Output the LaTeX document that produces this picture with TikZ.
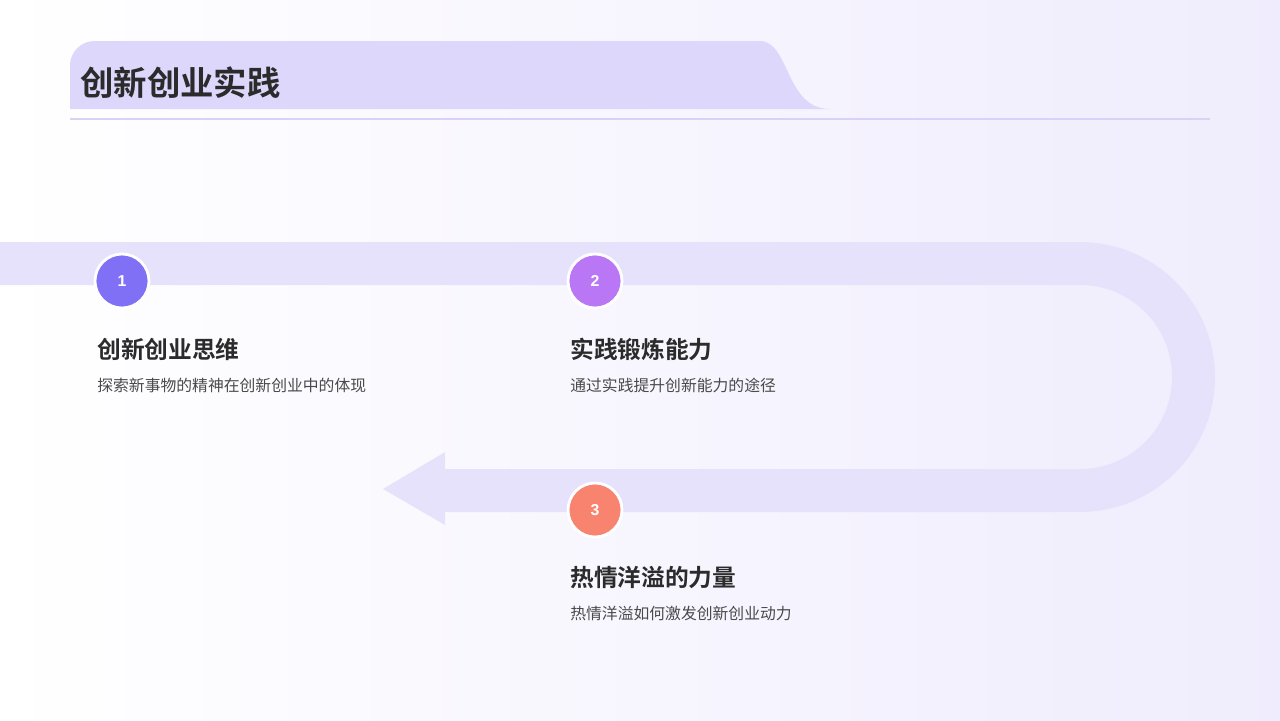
\documentclass[tikz,border=0pt]{standalone}
\usepackage{fontspec}
\newfontfamily\cjk{Noto Sans CJK SC}[BoldFont=Noto Sans CJK SC Bold]
\setmainfont{Liberation Sans}
\definecolor{bandcol}{HTML}{E7E2FC}
\definecolor{barcol}{HTML}{DDD7FB}
\definecolor{linecol}{HTML}{D9D2F6}
\definecolor{textdark}{HTML}{2B2B2B}
\definecolor{textgray}{HTML}{4A4A4A}
\definecolor{numa}{HTML}{8070F5}
\definecolor{numb}{HTML}{B976F5}
\definecolor{numc}{HTML}{F8836F}
\tikzset{
  numdot/.style={circle, draw=white, line width=1.6pt, minimum size=1.08cm, inner sep=0pt,
    text=white, font=\bfseries\fontsize{9}{9}\selectfont},
  headtext/.style={anchor=west, text=textdark, font=\cjk\bfseries\fontsize{13.5}{14}\selectfont, inner sep=0pt},
  subtext/.style={anchor=west, text=textgray, font=\cjk\fontsize{9}{10}\selectfont, inner sep=0pt}
}
\begin{document}
\begin{tikzpicture}[x=0.02cm,y=-0.02cm]
  % background
  \shade[left color=white, right color=bandcol!65] (0,0) rectangle (1280,720);
  \useasboundingbox (0,0) rectangle (1280,720);

  % title bar
  \fill[barcol, rounded corners=14] (70,109) -- (70,41) -- (735,41) [sharp corners]
    .. controls (790,41) and (785,109) .. (830,109) -- cycle;
  \node[anchor=west, inner sep=0pt, text=textdark, font=\cjk\bfseries\fontsize{19}{20}\selectfont] (title) at (80,83) {创新创业实践};
  \draw[linecol, line width=0.8pt] (70,119) -- (1210,119);

  % road
  \fill[bandcol] (0,242) -- (1080,242) arc[start angle=-90, end angle=90, radius=135]
    -- (445,512) -- (445,525) -- (383,489) -- (445,452) -- (445,469)
    -- (1080,469) arc[start angle=90, end angle=-90, radius=92] -- (0,285) -- cycle;

  % steps
  \node[numdot, fill=numa] (n1) at (122,281) {1};
  \node[numdot, fill=numb] (n2) at (595,281) {2};
  \node[numdot, fill=numc] (n3) at (595,510) {3};

  \node[headtext] (h1) at (97,349) {创新创业思维};
  \node[subtext] (s1) at (97,385) {探索新事物的精神在创新创业中的体现};
  \node[headtext] (h2) at (570,349) {实践锻炼能力};
  \node[subtext] (s2) at (570,385) {通过实践提升创新能力的途径};
  \node[headtext] (h3) at (570,577) {热情洋溢的力量};
  \node[subtext] (s3) at (570,613) {热情洋溢如何激发创新创业动力};
\end{tikzpicture}
\end{document}
